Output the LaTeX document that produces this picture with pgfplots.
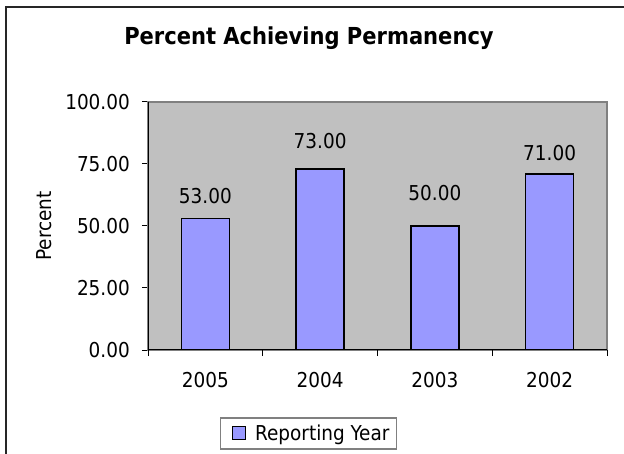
\documentclass[border=0pt]{standalone}
\usepackage{fontspec}
\setmainfont{DejaVu Sans Condensed}
\usepackage{pgfplots}
\usepackage{pgfplotstable}
\pgfplotsset{compat=1.18}
\definecolor{plotbg}{HTML}{C0C0C0}
\definecolor{barfill}{HTML}{9999FF}
\definecolor{framec}{HTML}{808080}
\pgfplotstableread{
x y off
0 53 15
1 73 21
2 50 26
3 71 13
}\datatable
\begin{document}
\begin{tikzpicture}[font=\fontsize{20.5bp}{24bp}\selectfont]
\useasboundingbox (0,0) rectangle (624bp,454bp);
\draw[line width=1.2bp, black!85] (6bp,-2bp) -- (6bp,447bp) -- (626bp,447bp);
\node[font=\fontsize{23.4bp}{27bp}\selectfont\bfseries] at (309bp,416bp) {Percent Achieving Permanency};
\begin{axis}[
  at={(148bp,104bp)}, anchor=south west, scale only axis,
  width=459bp, height=248bp,
  xmin=-0.5, xmax=3.5, ymin=0, ymax=100,
  ybar, bar width=48bp,
  axis background/.style={fill=plotbg},
  axis line style={draw=framec, line width=1.2bp},
  xtick={0,1,2,3}, xticklabels={2005,2004,2003,2002},
  xtick align=inside, xtick pos=bottom,
  x tick style={draw=none},
  extra x ticks={-0.5,0.5,1.5,2.5,3.5}, extra x tick labels={},
  extra x tick style={tick align=outside, x tick style={draw=black, line width=1bp}, major tick length=6bp},
  ytick={0,25,50,75,100}, ytick pos=left, ytick align=outside,
  y tick style={draw=black, line width=1bp}, major tick length=6bp,
  /pgf/number format/assume math mode=true,
  yticklabel style={/pgf/number format/fixed, /pgf/number format/fixed zerofill, /pgf/number format/precision=2, inner sep=0pt, xshift=-12bp},
  xticklabel style={inner sep=0pt, yshift=-22bp},
  ylabel={Percent},
  ylabel style={at={(axis description cs:-0.2266,0.5)}, anchor=center},
  legend style={at={(0.3497,-0.3367)}, anchor=center, draw=framec, line width=1.2bp, fill=white, inner xsep=5bp, inner ysep=5bp},
]
\addplot[fill=barfill, draw=black, line width=1.6bp,
  legend image code/.code={\path (-2bp,0) (24bp,0); \draw[fill=barfill, draw=black, line width=1.4bp] (4bp,-6bp) rectangle (17bp,7bp);},
  nodes near coords={\pgfmathprintnumber[fixed,fixed zerofill,precision=2,assume math mode=true]{\pgfplotspointmeta}},
  visualization depends on={\thisrow{off} \as \off},
  every node near coord/.append style={anchor=base, inner sep=0pt, yshift=\off, black},
] table[x=x, y=y] {\datatable};
\addlegendentry{Reporting Year}
\draw[black, line width=1.2bp] (rel axis cs:0,1) -- (rel axis cs:0,0) -- (rel axis cs:1,0);
\end{axis}
\end{tikzpicture}
\end{document}
